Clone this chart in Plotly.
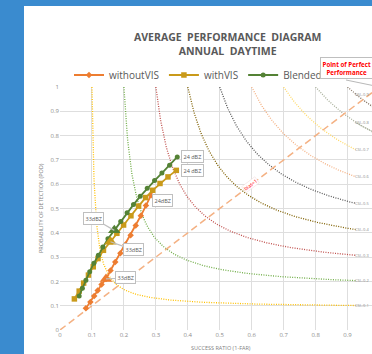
import numpy as np
import plotly.graph_objects as go

# ---------------- data ----------------
without_vis_sr = [0.081, 0.095, 0.107, 0.118, 0.130, 0.144, 0.158, 0.173, 0.189, 0.205, 0.221, 0.237, 0.253, 0.269, 0.285]
without_vis_pod = [0.089, 0.115, 0.140, 0.163, 0.187, 0.210, 0.245, 0.280, 0.316, 0.352, 0.390, 0.430, 0.470, 0.512, 0.555]
without_vis_dbz = [38, 37, 36, 35, 34, 33, 32, 31, 30, 29, 28, 27, 26, 25, 24]

with_vis_sr = [0.045, 0.060, 0.074, 0.089, 0.104, 0.119, 0.136, 0.158, 0.178, 0.199, 0.222, 0.246, 0.268, 0.290, 0.313, 0.338, 0.364]
with_vis_pod = [0.128, 0.160, 0.193, 0.226, 0.260, 0.294, 0.328, 0.363, 0.398, 0.432, 0.470, 0.510, 0.545, 0.575, 0.603, 0.630, 0.657]
with_vis_dbz = [40, 39, 38, 37, 36, 35, 34, 33, 32, 31, 30, 29, 28, 27, 26, 25, 24]

blended_sr = [0.060, 0.070, 0.081, 0.093, 0.106, 0.120, 0.134, 0.150, 0.170, 0.190, 0.210, 0.230, 0.251, 0.273, 0.296, 0.319, 0.343, 0.367]
blended_pod = [0.140, 0.172, 0.205, 0.240, 0.275, 0.308, 0.342, 0.376, 0.410, 0.447, 0.482, 0.516, 0.550, 0.583, 0.615, 0.646, 0.678, 0.712]
blended_dbz = [41, 40, 39, 38, 37, 36, 35, 34, 33, 32, 31, 30, 29, 28, 27, 26, 25, 24]

csi_levels = [0.1, 0.2, 0.3, 0.4, 0.5, 0.6, 0.7, 0.8, 0.9]
csi_colors = ["#ffc000", "#70ad47", "#c0504d", "#7f6000", "#595959", "#f4b183", "#ffd966", "#a9b09b", "#8d7d6d"]
csi_sr_end = 0.925

bias_x = [0.0, 1.0]
bias_y = [0.0, 1.0]

tick_vals = [0, 0.1, 0.2, 0.3, 0.4, 0.5, 0.6, 0.7, 0.8, 0.9, 1]
tick_text = ["0", "0.1", "0.2", "0.3", "0.4", "0.5", "0.6", "0.7", "0.8", "0.9", "1"]

ORANGE = "#ed7d31"
GOLD = "#c99a1a"
GREEN = "#548235"
GREY_TXT = "#595959"

# ---------------- geometry helpers ----------------
L, T, W, H = 60, 87, 312, 243
def pxx(xp):
    return (xp - L) / W
def pxy(yp):
    return (T + H - yp) / H

fig = go.Figure()

# CSI contours
for lev, col in zip(csi_levels, csi_colors):
    sr = np.concatenate([np.linspace(lev, lev * 1.3, 40), np.linspace(lev * 1.3, csi_sr_end, 120)[1:]])
    pod = 1.0 / (1.0 / lev + 1.0 - 1.0 / sr)
    fig.add_trace(go.Scatter(x=sr, y=pod, mode="lines", showlegend=False, hoverinfo="skip",
                             line=dict(color=col, width=1.3, dash="1px,1.4px")))
    fig.add_annotation(xref="paper", x=pxx(371), y=pod[-1], text="CSI=%.1f" % lev, showarrow=False,
                       xanchor="right", yanchor="middle", font=dict(size=4, color="#8c8c8c"))

# bias = 1 line
fig.add_trace(go.Scatter(x=bias_x, y=bias_y, mode="lines", showlegend=False, hoverinfo="skip",
                         line=dict(color="#f4b183", width=1.5, dash="7px,4px")))

# series
series = [
    ("withoutVIS", without_vis_sr, without_vis_pod, without_vis_dbz, ORANGE, "diamond", 5),
    ("withVIS", with_vis_sr, with_vis_pod, with_vis_dbz, GOLD, "square", 5.5),
    ("Blended", blended_sr, blended_pod, blended_dbz, GREEN, "circle", 5),
]
for name, xs, ys, dbz, col, sym, ms in series:
    fig.add_trace(go.Scatter(x=xs, y=ys, mode="lines+markers", name=name,
                             line=dict(color=col, width=1.8),
                             marker=dict(symbol=sym, size=ms, color=col)))

# highlighted 33 dBZ markers
for name, xs, ys, dbz, col, sym, ms in series:
    i = dbz.index(33)
    fig.add_trace(go.Scatter(x=[xs[i]], y=[ys[i]], mode="markers", showlegend=False, hoverinfo="skip",
                             marker=dict(symbol="triangle-up", size=11, color=col)))

lbl_font = dict(size=5.5, color=GREY_TXT)
box = dict(bgcolor="white", bordercolor="#bfbfbf", borderwidth=1, borderpad=1.5)

# 33 dBZ callouts (pixel offsets)
offs33 = {"withoutVIS": (19, -1), "withVIS": (23, 8), "Blended": (-21, -12)}
for name, xs, ys, dbz, col, sym, ms in series:
    i = dbz.index(33)
    ax, ay = offs33[name]
    fig.add_annotation(x=xs[i], y=ys[i], text="33dBZ", showarrow=True, arrowhead=0, arrowwidth=1.2,
                       arrowcolor="#bfbfbf", ax=ax, ay=ay, font=lbl_font, **box)

# 24 dBZ labels
offs24 = {"withoutVIS": (11, 5, "24dBZ"), "withVIS": (16, 0, "24 dBZ"), "Blended": (15, 0, "24 dBZ")}
for name, xs, ys, dbz, col, sym, ms in series:
    i = dbz.index(24)
    dx, dy, txt = offs24[name]
    fig.add_annotation(x=xs[i], y=ys[i], text=txt, showarrow=False, xshift=dx, yshift=-dy,
                       xanchor="center", font=lbl_font, **box)

# bias label
fig.add_annotation(x=0.595, y=0.597, text="bias=1", showarrow=False, textangle=-37,
                   font=dict(size=5, color="#ff0000"), bgcolor="white", bordercolor="#f2dcdb",
                   borderwidth=0.5, borderpad=0.5)

# title
fig.add_annotation(xref="paper", yref="paper", x=pxx(227), y=pxy(43.5),
                   text="<b>AVERAGE  PERFORMANCE  DIAGRAM<br>ANNUAL  DAYTIME</b>",
                   showarrow=False, xanchor="center", yanchor="middle",
                   font=dict(family="Open Sans", size=10.5, color=GREY_TXT))

# point of perfect performance callout
fig.add_shape(type="line", xref="paper", yref="paper", x0=pxx(346), y0=pxy(80), x1=pxx(380), y1=pxy(87),
              line=dict(color="#a6a6a6", width=0.8))
fig.add_annotation(xref="paper", yref="paper", x=pxx(320), y=pxy(57),
                   text="<b>Point of Perfect<br>Performance</b>", showarrow=False,
                   xanchor="left", yanchor="top", align="center",
                   font=dict(size=6.2, color="#ff0000"), bgcolor="white",
                   bordercolor="#bfbfbf", borderwidth=1, borderpad=1.5)

# axis titles
fig.add_annotation(xref="paper", yref="paper", x=pxx(221), y=pxy(348), text="SUCCESS RATIO (1-FAR)",
                   showarrow=False, xanchor="center", yanchor="middle", font=dict(size=5.5, color="#7f7f7f"))
fig.add_annotation(xref="paper", yref="paper", x=pxx(41), y=pxy(208), text="PROBABILITY OF DETECTION (POD)",
                   showarrow=False, textangle=-90, xanchor="center", yanchor="middle",
                   font=dict(size=5.5, color="#7f7f7f"))

# white slide panel over blue background
fig.add_shape(type="rect", xref="paper", yref="paper", layer="below",
              x0=pxx(24), x1=pxx(380), y0=pxy(360), y1=pxy(6),
              fillcolor="white", line=dict(width=0))

fig.update_layout(
    width=372, height=354, autosize=False,
    margin=dict(l=L, r=0, t=T, b=354 - T - H, pad=0, autoexpand=False),
    paper_bgcolor="#3a8bcf", plot_bgcolor="white",
    font=dict(family="Open Sans", color=GREY_TXT),
    showlegend=True,
    legend=dict(orientation="h", x=pxx(69), y=pxy(75), xanchor="left", yanchor="middle",
                font=dict(size=10, color=GREY_TXT), bgcolor="rgba(0,0,0,0)",
                itemwidth=30, tracegroupgap=0),
    xaxis=dict(range=[0, W / 319.5], tickvals=tick_vals, ticktext=tick_text, showgrid=True,
               gridcolor="#dedede", gridwidth=1, zeroline=False, showline=False, ticks="",
               tickfont=dict(size=6, color="#8c8c8c"), fixedrange=True, automargin=False),
    yaxis=dict(range=[0, 1], tickvals=tick_vals, ticktext=tick_text, showgrid=True,
               gridcolor="#dedede", gridwidth=1, zeroline=False, showline=False, ticks="",
               tickfont=dict(size=6, color="#8c8c8c"), fixedrange=True, automargin=False),
)

fig.write_html("out.html", config={"displayModeBar": False},
               post_script="document.body.style.margin='0';document.body.style.overflow='hidden';")
